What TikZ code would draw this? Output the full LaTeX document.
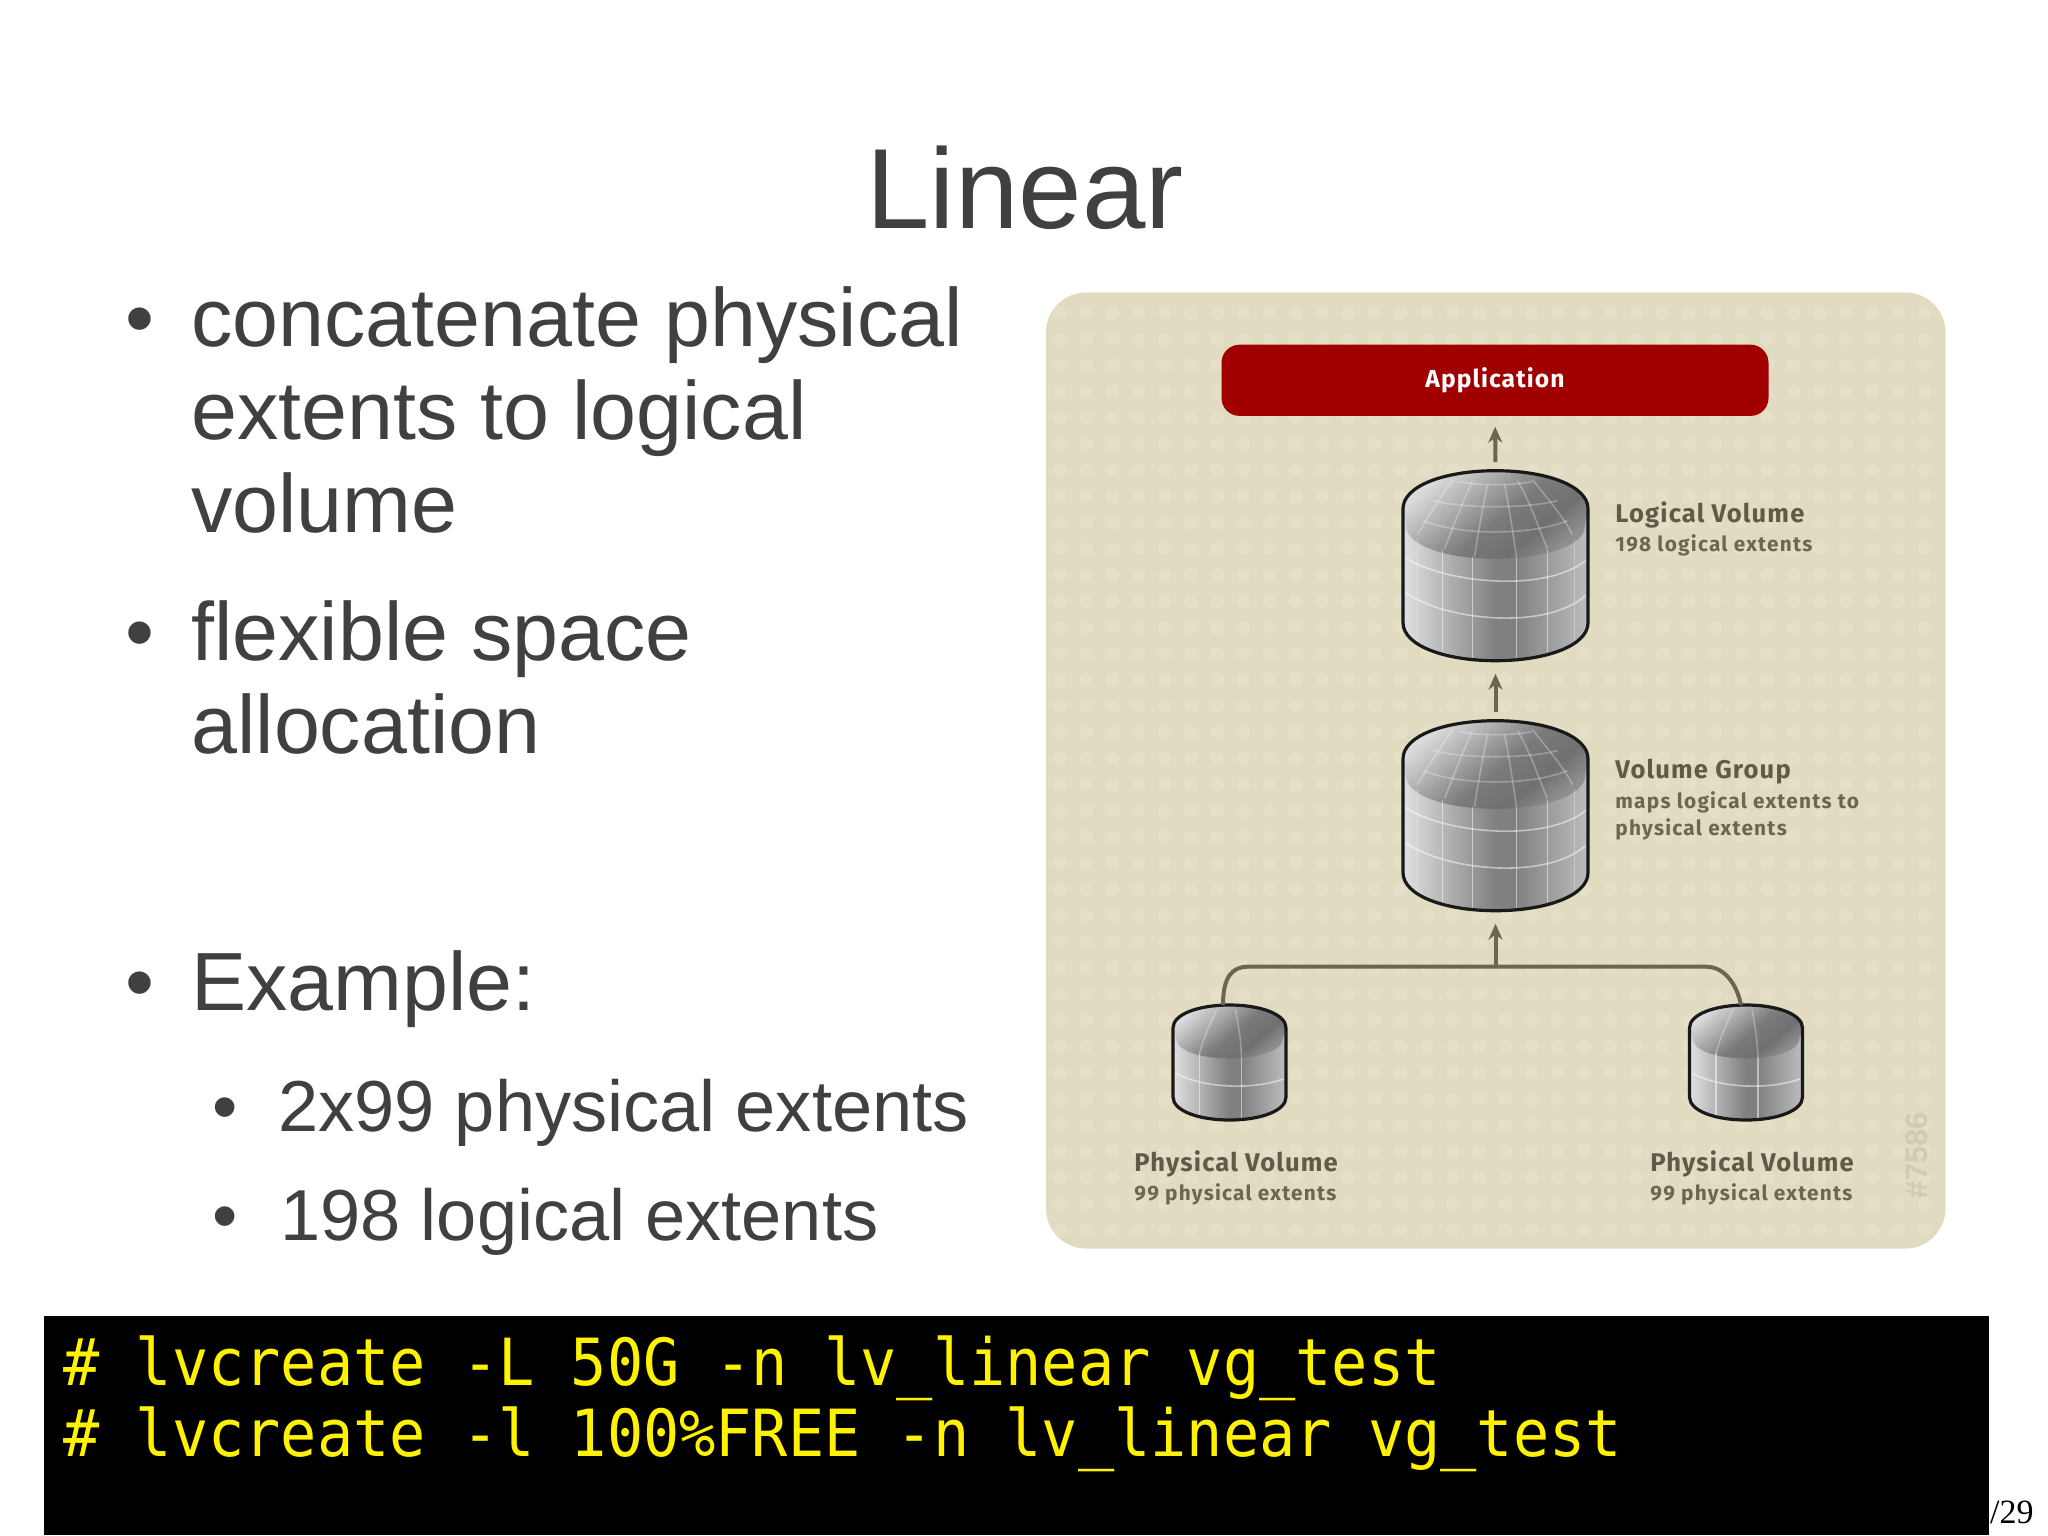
\documentclass[tikz,border=0pt]{standalone}
\usepackage{fontspec}
\usepackage{xcolor}
\setmainfont{Liberation Sans}
\newfontfamily\labelfont[LetterSpace=4.5]{Fira Sans}
\newfontfamily\sublabelfont[LetterSpace=6]{Fira Sans}
\newfontfamily\codefont{DejaVu Sans Mono}
\usetikzlibrary{arrows.meta}
\usetikzlibrary{positioning}

\definecolor{slidetext}{HTML}{404040}
\definecolor{panelbg}{HTML}{E1DBC1}
\definecolor{paneldot}{HTML}{E5DFC7}
\definecolor{appred}{HTML}{A00000}
\definecolor{flowcol}{HTML}{6B6650}
\definecolor{headcol}{HTML}{5F5B49}
\definecolor{subcol}{HTML}{6B6753}
\definecolor{stampcol}{HTML}{D1CBB1}

\pgfdeclarehorizontalshading{drumwall}{100bp}{color(0bp)=(black!12);color(25bp)=(black!12);
    color(33bp)=(black!24);color(50bp)=(black!50);color(55bp)=(black!50);color(65bp)=(black!38);color(75bp)=(black!26);color(100bp)=(black!26)}
\pgfdeclarehorizontalshading{drumtop}{100bp}{color(0bp)=(black!14);color(25bp)=(black!14);
    color(38bp)=(black!32);color(52bp)=(black!52);color(65bp)=(black!56);color(75bp)=(black!44);color(100bp)=(black!44)}

\tikzset{
    bulletitem/.style={anchor=base west, inner sep=0, text=slidetext, font=\fontsize{41.3}{46}\selectfont},
    subitem/.style={anchor=base west, inner sep=0, text=slidetext, font=\fontsize{36.1}{42}\selectfont},
    labelhead/.style={anchor=base west, inner sep=0, text=headcol, font=\labelfont\bfseries\fontsize{12.8}{15}\selectfont},
    labelsub/.style={anchor=base west, inner sep=0, text=subcol, font=\sublabelfont\bfseries\fontsize{10.4}{12}\selectfont},
    codeline/.style={anchor=base west, inner sep=0, text=yellow, yscale=1.08, transform shape, font=\codefont\fontsize{30.1}{36}\selectfont},
    drumspot/.style={inner sep=0, outer sep=0},
    gridline/.style={draw=white, opacity=0.5, line width=0.8pt},
    domeline/.style={draw=white, opacity=0.28, line width=0.8pt},
    flowline/.style={draw=flowcol, line width=2pt},
    flow/.style={flowline, -{Stealth[length=8pt,width=7pt]}},
}

% drum: name, centre x, top y, half width, height, shoulder, grid
\newcommand{\drum}[7]{
    \node[drumspot, minimum width=#4*1pt, minimum height=#5*0.5pt] (#1) at (#2,#3+#5/2) {};
    \begin{scope}[shift={(#2,#3)}]
        \shade[shading=drumwall] ({-#4},{#6}) .. controls ({-#4},{#6*0.4}) and ({-#4*0.55},0) .. (0,0)
            .. controls ({#4*0.55},0) and ({#4},{#6*0.4}) .. ({#4},{#6}) -- ({#4},{#5-#6})
            .. controls ({#4},{#5-#6*0.4}) and ({#4*0.55},{#5}) .. (0,{#5})
            .. controls ({-#4*0.55},{#5}) and ({-#4},{#5-#6*0.4}) .. ({-#4},{#5-#6}) -- cycle;
        \shade[shading=drumtop, shading angle=-50] ({-#4},{#6}) .. controls ({-#4},{#6*0.4}) and ({-#4*0.55},0) .. (0,0)
            .. controls ({#4*0.55},0) and ({#4},{#6*0.4}) .. ({#4},{#6}) -- ({#4-3},{#6*1.45})
            .. controls ({#4-3},{#6*1.95}) and ({#4*0.55},{#6*2.32}) .. (0,{#6*2.32})
            .. controls ({-#4*0.55},{#6*2.32}) and ({-#4+3},{#6*1.95}) .. ({-#4+3},{#6*1.45}) -- cycle;
        #7
        \draw[line width=1.6pt, black!90] ({-#4},{#6}) .. controls ({-#4},{#6*0.4}) and ({-#4*0.55},0) .. (0,0)
            .. controls ({#4*0.55},0) and ({#4},{#6*0.4}) .. ({#4},{#6}) -- ({#4},{#5-#6})
            .. controls ({#4},{#5-#6*0.4}) and ({#4*0.55},{#5}) .. (0,{#5})
            .. controls ({-#4*0.55},{#5}) and ({-#4},{#5-#6*0.4}) .. ({-#4},{#5-#6}) -- cycle;
    \end{scope}
}

\newcommand{\biggrid}{
    \foreach \a/\b/\c in {-53/79/181, -23/86/188, 21/86/188, 52/79/181}
        \draw[gridline] (\a,\b) -- (\a,\c);
    \foreach \a/\b/\c in {-78/68/170, 79/68/170}
        \draw[domeline] (\a,\b) -- (\a,\c);
    \draw[gridline] (-90,87) .. controls (-50,113) and (50,122) .. (90,90);
    \draw[gridline] (-90,122) .. controls (-50,150) and (50,160) .. (90,125);
    \draw[domeline] (-51,78) .. controls (-42,55) and (-34,34) .. (-23,10);
    \draw[domeline] (-21,86) .. controls (-17,60) and (-13,38) .. (-8,14);
    \draw[domeline] (21,86) .. controls (17,60) and (14,38) .. (9,14);
    \draw[domeline] (52,78) .. controls (42,55) and (36,34) .. (22,10);
    \draw[domeline] (-78,64) .. controls (-70,50) and (-63,39) .. (-43,9);
    \draw[domeline] (77,64) .. controls (70,50) and (61,39) .. (37,9);
    \draw[domeline] (-72,50) .. controls (-35,65) and (35,65) .. (72,50);
    \draw[domeline] (-62,30) .. controls (-30,38) and (30,38) .. (62,30);
    \draw[domeline] (-36,11) .. controls (-15,15) and (15,15) .. (36,11);
}
\newcommand{\smallgrid}{
    \draw[gridline] (-30,48) -- (-30,110);
    \draw[gridline] (12,53) -- (12,113);
    \draw[gridline] (-54,68) .. controls (-30,82) and (20,86) .. (54,74);
    \draw[domeline] (-30,48) .. controls (-25,30) and (-19,18) .. (-13,5);
    \draw[domeline] (12,53) .. controls (11,30) and (9,22) .. (6,5);
}

\begin{document}
\begin{tikzpicture}[x=0.5pt, y=-0.5pt]
    \useasboundingbox (0,0) rectangle (2048,1535);

    \node[anchor=base, inner sep=0, text=slidetext, font=\fontsize{57}{60}\selectfont] (title) at (1025,228.5) {Linear};

    % left column
    \node[bulletitem] (dota) at (125,347) {•};
    \node[bulletitem] (ta) at (191,347) {concatenate physical};
    \node[bulletitem] (tb) at (191,439) {extents to logical};
    \node[bulletitem] (tc) at (191,532) {volume};
    \node[bulletitem] (dotb) at (125,660) {•};
    \node[bulletitem] (td) at (191,660) {flexible space};
    \node[bulletitem] (te) at (191,753) {allocation};
    \node[bulletitem] (dotc) at (125,1010) {•};
    \node[bulletitem] (tf) at (191,1010) {Example:};
    \node[subitem] (dotd) at (212,1131) {•};
    \node[subitem] (tg) at (278,1131) {2x99 physical extents};
    \node[subitem] (dote) at (212,1240) {•};
    \node[subitem] (th) at (280,1240) {198 logical extents};

    % panel
    \fill[panelbg, rounded corners=20pt] (1046,292.5) rectangle (1945.5,1248.5);
    \begin{scope}
        \clip[rounded corners=20pt] (1046,292.5) rectangle (1945.5,1248.5);
        \foreach \i in {0,...,33}
            \foreach \j in {0,...,35}
                \fill[paneldot] ({1060+26.2*\i},{313+26.2*\j}) circle[radius=7];
    \end{scope}

    \node[fill=appred, rounded corners=9pt, minimum width=273.5pt, minimum height=35.6pt, inner sep=0,
        text=white, font=\labelfont\bfseries\fontsize{12.3}{15}\selectfont] (app) at (1495,380.3) {Application};

    \drum{lv}{1495.5}{470.7}{92.5}{190}{38}{\biggrid}
    \drum{vg}{1495.5}{720.7}{92.5}{190}{38}{\biggrid}
    \drum{pvl}{1229.5}{1005}{56.5}{115}{23}{\smallgrid}
    \drum{pvr}{1746}{1005}{56.5}{115}{23}{\smallgrid}

    \coordinate (bus) at (1495.5,966.7);
    \draw[flow, shorten <=4.3pt, shorten >=5.2pt] (lv.north) -- (app.south);
    \draw[flow, shorten <=4.6pt, shorten >=6.5pt] (vg.north) -- (lv.south);
    \draw[flow, shorten >=6.5pt] (bus) -- (vg.south);
    \draw[flowline] ([xshift=-3.25pt]pvl.north) .. controls +(0,-28) and (1232,966.7) .. (1248,966.7)
        -- (1706,966.7) .. controls (1725,966.7) and (1737,985) .. ([xshift=-2.5pt]pvr.north);

    \node[labelhead] (lvhead) at (1615,522.7) {Logical Volume};
    \node[labelsub] (lvsub) at (1615,551) {198 logical extents};
    \node[labelhead] (vghead) at (1615,778) {Volume Group};
    \node[labelsub] (vgsuba) at (1615,808) {maps logical extents to};
    \node[labelsub] (vgsubb) at (1615,835) {physical extents};
    \node[labelhead] (pvlhead) at (1134,1171.7) {Physical Volume};
    \node[labelsub] (pvlsub) at (1134,1200) {99 physical extents};
    \node[labelhead] (pvrhead) at (1650,1171.7) {Physical Volume};
    \node[labelsub] (pvrsub) at (1650,1200) {99 physical extents};
    \node[rotate=90, inner sep=0, text=stampcol, font=\bfseries\fontsize{15.5}{18}\selectfont] (stamp) at (1917,1155) {\#7586};

    % terminal
    \node[anchor=base east, inner sep=0, font=\fontspec{Liberation Serif}\fontsize{17}{20}\selectfont] (pagenum) at (2034,1523) {/29};
    \fill[black] (44,1316) rectangle (1989,1535);
    \node[codeline] (cmda) at (63,1385) {\# lvcreate -L 50G -n lv\_linear vg\_test};
    \node[codeline] (cmdb) at (63,1456.7) {\# lvcreate -l 100\%FREE -n lv\_linear vg\_test};
\end{tikzpicture}
\end{document}
